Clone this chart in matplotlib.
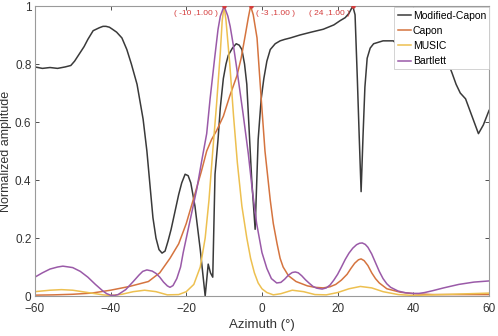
import matplotlib.pyplot as plt

plt.rcParams['font.family'] = ['Liberation Sans', 'DejaVu Sans']

# Modified-Capon
mc_x = [-60, -58, -56, -54, -52, -50.5, -49.5, -48, -47, -46, -44.6, -43, -42, -41.2, -40.3,
        -39.5, -38.4, -37, -35.7, -34.5, -33, -31.4, -30.4, -29.5, -28.8, -28, -27.2, -26.4,
        -25.6, -24.8, -24, -23, -22, -21.2, -20.3, -19.5, -18.8, -17.7, -16.3, -15, -14.2,
        -13.6, -13, -12.4, -11.6, -11, -10.2, -9.5, -8.9, -7.8, -6.8, -6, -5.3, -4.6, -4,
        -3.1, -2.7, -1.8, -1, -0.2, 0.5, 1.3, 2.2, 3.5, 4.8, 6, 7.5, 10, 13, 16.2, 19, 20.7, 22,
        23, 24, 24.6, 25.2, 25.7, 26.2, 26.7, 27.2, 27.8, 28.6, 29.5, 32, 34.7, 36.4, 40, 44,
        47, 49, 50.2, 51.3, 52.4, 53.8, 55.5, 57.2, 58.5, 60]
mc_y = [0.79, 0.785, 0.788, 0.785, 0.79, 0.795, 0.81, 0.84, 0.86, 0.885, 0.915, 0.925, 0.93,
        0.93, 0.927, 0.92, 0.91, 0.89, 0.85, 0.8, 0.73, 0.61, 0.5, 0.37, 0.27, 0.2, 0.16,
        0.148, 0.155, 0.19, 0.23, 0.29, 0.35, 0.39, 0.42, 0.415, 0.39, 0.31, 0.16, 0.0, 0.11,
        0.08, 0.065, 0.42, 0.54, 0.65, 0.75, 0.8, 0.83, 0.855, 0.87, 0.865, 0.85, 0.8, 0.73,
        0.5, 0.4, 0.23, 0.54, 0.68, 0.75, 0.81, 0.85, 0.87, 0.88, 0.885, 0.89, 0.9, 0.91,
        0.92, 0.935, 0.95, 0.96, 0.975, 1.0, 0.97, 0.75, 0.55, 0.36, 0.55, 0.72, 0.82, 0.855,
        0.87, 0.88, 0.88, 0.86, 0.9, 0.88, 0.85, 0.81, 0.77, 0.73, 0.70, 0.68, 0.62, 0.56,
        0.59, 0.64]

# Capon
cp_x = [-60, -55, -50, -45, -40, -35, -30, -27, -24.3, -22, -20, -18.2, -16, -14.6, -13.3,
        -12, -10.2, -8.5, -6.6, -5.5, -4.4, -3.6, -3, -2.3, -1.3, -0.3, 0.8, 2.2, 3, 4, 4.8,
        5.6, 7, 9, 12, 14, 16.2, 18, 19.5, 21, 22.5, 23.5, 24.5, 25.5, 26.2, 27, 28, 29, 30,
        31, 33, 36.6, 40, 45, 50, 55, 60]
cp_y = [0.003, 0.004, 0.006, 0.01, 0.02, 0.033, 0.05, 0.08, 0.13, 0.18, 0.25, 0.33, 0.43,
        0.5, 0.54, 0.57, 0.62, 0.69, 0.76, 0.82, 0.9, 0.96, 1.0, 0.97, 0.89, 0.7, 0.5, 0.33,
        0.25, 0.18, 0.13, 0.1, 0.07, 0.05, 0.035, 0.03, 0.028, 0.032, 0.04, 0.055, 0.075,
        0.095, 0.113, 0.125, 0.128, 0.122, 0.105, 0.08, 0.06, 0.045, 0.025, 0.013, 0.008,
        0.005, 0.005, 0.005, 0.005]

# MUSIC
mu_x = [-60, -56, -53, -50, -46, -42, -40, -37, -34, -31, -28, -25, -22, -20, -18, -16.3,
        -15, -14, -13, -12, -11, -10.5, -10, -9.5, -8.5, -7.5, -6.5, -5.3, -4, -3, -2, -1, 0,
        1.3, 3, 5, 8, 11, 14, 17, 20, 23, 26, 29, 32, 36, 40, 45, 50, 55, 60]
mu_y = [0.015, 0.02, 0.022, 0.02, 0.012, 0.004, 0.002, 0.006, 0.015, 0.02, 0.015, 0.004,
        0.005, 0.015, 0.04, 0.1, 0.2, 0.33, 0.5, 0.66, 0.84, 0.95, 1.0, 0.95, 0.8, 0.62,
        0.46, 0.31, 0.2, 0.13, 0.08, 0.045, 0.025, 0.012, 0.004, 0.008, 0.02, 0.015, 0.005,
        0.004, 0.012, 0.025, 0.033, 0.028, 0.015, 0.005, 0.002, 0.004, 0.006, 0.008, 0.01]

# Bartlett
bt_x = [-60, -58, -56, -54, -52.6, -51, -50, -48, -46, -44, -42, -41, -40, -39, -38, -36,
        -34, -32.5, -31.5, -30.4, -29, -28, -27, -26, -25, -24.3, -23.5, -22.5, -21.5, -20.8,
        -19, -17.2, -16, -14.6, -13.7, -12.5, -11.6, -11, -10, -9, -8.4, -7.5, -6.6, -5, -3.6,
        -2.5, -1.4, 0, 1.3, 2.5, 3.9, 5, 6, 7, 8, 8.8, 9.6, 10.5, 11.5, 12.5, 13.5, 14.5, 15.9,
        17, 18, 19, 20, 21, 22, 23, 24, 25, 25.8, 26.5, 27.3, 28, 29, 30, 31, 32, 33, 34, 36,
        38, 40, 41.5, 43, 45, 48, 52, 56, 60]
bt_y = [0.065, 0.08, 0.093, 0.1, 0.103, 0.1, 0.098, 0.085, 0.065, 0.04, 0.017, 0.008, 0.003,
        0.002, 0.005, 0.022, 0.05, 0.072, 0.085, 0.09, 0.086, 0.078, 0.065, 0.048, 0.035,
        0.03, 0.036, 0.06, 0.1, 0.15, 0.26, 0.37, 0.46, 0.56, 0.68, 0.82, 0.92, 0.965, 1.0,
        0.965, 0.93, 0.86, 0.78, 0.63, 0.49, 0.36, 0.25, 0.15, 0.095, 0.06, 0.045, 0.047,
        0.058, 0.072, 0.081, 0.083, 0.08, 0.07, 0.056, 0.044, 0.033, 0.027, 0.024, 0.028,
        0.038, 0.055, 0.075, 0.1, 0.126, 0.148, 0.165, 0.177, 0.182, 0.183, 0.178, 0.168,
        0.145, 0.115, 0.085, 0.06, 0.042, 0.03, 0.017, 0.011, 0.009, 0.009, 0.012, 0.018,
        0.028, 0.04, 0.048, 0.052]

peaks_x = [-10, -3, 24]
peaks_y = [1.0, 1.0, 1.0]
peak_labels = ['( -10 ,1.00 )', '( -3 ,1.00 )', '( 24 ,1.00 )']

fig, ax = plt.subplots(figsize=(4.98, 3.36), dpi=100)
fig.subplots_adjust(left=0.070, right=0.982, bottom=0.119, top=0.982)

ax.plot(mc_x, mc_y, color='#3a3a3a', lw=1.1, label='Modified-Capon')
ax.plot(cp_x, cp_y, color='#d5743f', lw=1.1, label='Capon')
ax.plot(mu_x, mu_y, color='#edc050', lw=1.1, label='MUSIC')
ax.plot(bt_x, bt_y, color='#9a5aa8', lw=1.1, label='Bartlett')

ax.plot(peaks_x, peaks_y, 'o', color='#d43c3c', ms=2.2, zorder=5)
offsets = [(-1.6, 'right'), (1.3, 'left'), (-0.7, 'right')]
for px, py, lab, (dx, ha) in zip(peaks_x, peaks_y, peak_labels, offsets):
    ax.text(px + dx, py - 0.024, lab, color='#d43c3c', fontsize=6, ha=ha, va='center')

ax.set_xlim(-60, 60)
ax.set_ylim(0, 1)
ax.set_xticks([-60, -40, -20, 0, 20, 40, 60])
ax.set_yticks([0, 0.2, 0.4, 0.6, 0.8, 1])
ax.set_yticklabels(['0', '0.2', '0.4', '0.6', '0.8', '1'])
ax.tick_params(direction='in', length=3, labelsize=8.5, colors='#333333',
               top=True, right=True, width=0.6)
ax.tick_params(axis='x', pad=5)
ax.tick_params(axis='y', pad=2.5)
for s in ax.spines.values():
    s.set_color('#9a9a9a')
    s.set_linewidth(0.8)

ax.set_xlabel('Azimuth (°)', fontsize=9.5, color='#333333', labelpad=3)
ax.set_ylabel('Normalized amplitude', fontsize=9, color='#333333', labelpad=2)

leg = ax.legend(loc='upper right', bbox_to_anchor=(1.0, 0.995), borderaxespad=0,
                fontsize=7.5, handlelength=1.3, handletextpad=0.15, labelspacing=0.5,
                borderpad=0.3, fancybox=False, framealpha=1)
leg.get_frame().set_edgecolor('#cccccc')
leg.get_frame().set_linewidth(0.6)

fig.savefig('out.png', dpi=100)
